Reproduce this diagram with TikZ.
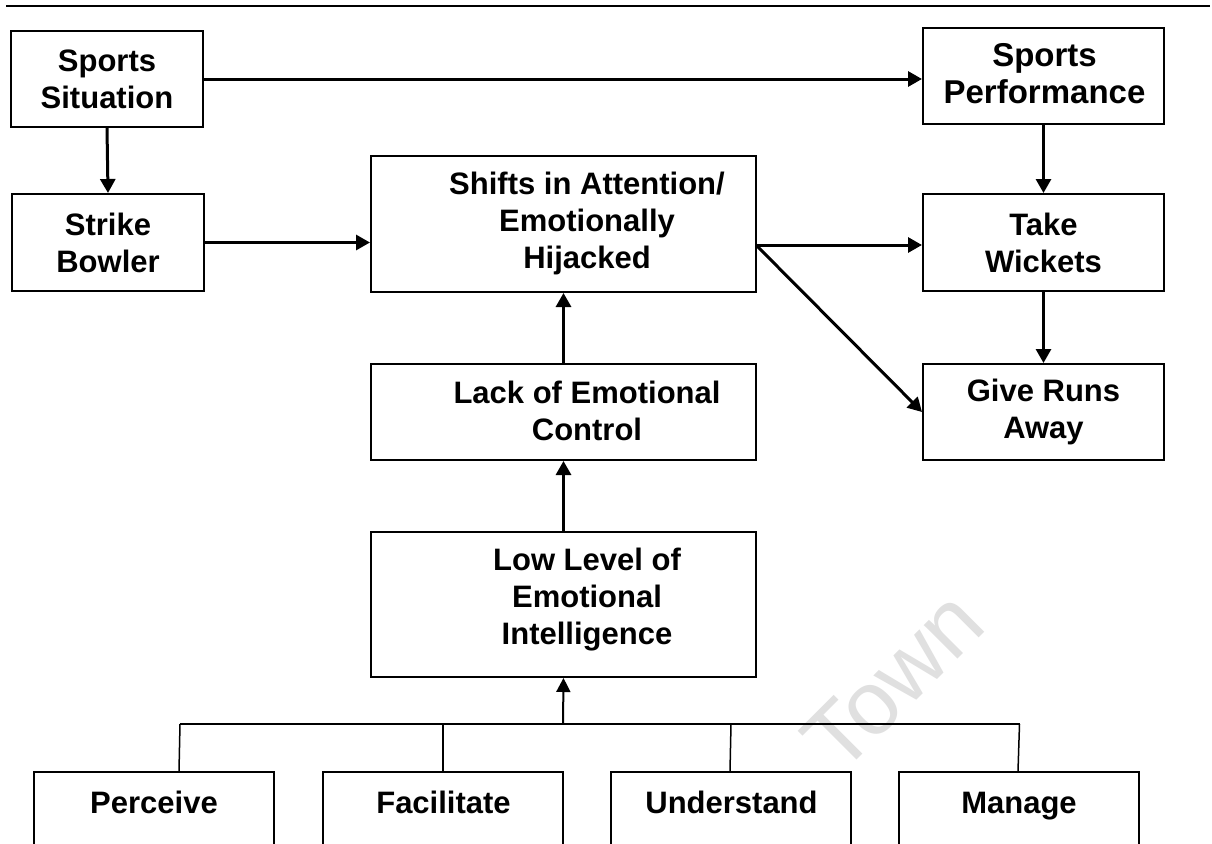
\documentclass[tikz,border=0pt]{standalone}
\usepackage{fontspec}
\setmainfont{Liberation Sans}
\usetikzlibrary{arrows.meta}
\begin{document}
\begin{tikzpicture}[x=1pt,y=-1pt,
  box/.style={draw, line width=2pt, inner sep=0pt, line join=miter},
  lbl/.style={font=\fontsize{31}{37}\selectfont\bfseries, align=center, inner sep=0pt},
  biglbl/.style={font=\fontsize{33}{37}\selectfont\bfseries, align=center, inner sep=0pt},
  flow/.style={line width=3pt, -{Triangle[length=14pt,width=15pt]}},
  feed/.style={line width=2pt, -{Triangle[length=14pt,width=14pt]}},
  bus/.style={line width=1.5pt},
  rule/.style={line width=2.2pt},
  watermark/.style={rotate=45, text=black!12, inner sep=0pt, font=\fontsize{90}{90}\selectfont}
]
\useasboundingbox (0,0) rectangle (1212,843);
\fill[white] (0,0) rectangle (1212,843);
\clip (0,0) rectangle (1212,843);

% faint watermark behind the chart
\node[watermark] (wm) at (893,681) {Town};

% header rule
\coordinate (ruleL) at (6,6);
\coordinate (ruleR) at (1210,6);
\draw[rule] (ruleL) -- (ruleR);

% left column
\node[box, minimum width=192pt, minimum height=96pt, lbl] (sit) at (107,79) {Sports\\Situation};
\node[box, minimum width=192pt, minimum height=97pt, lbl] (strike) at (108,242.5) {Strike\\Bowler};

% right column
\node[box, minimum width=241pt, minimum height=96pt] (perf) at (1043.5,76) {};
\node[biglbl] (perfT) at (1044.5,74) {Sports\\Performance};
\node[box, minimum width=241pt, minimum height=97pt, lbl] (take) at (1043.5,242.5) {Take\\Wickets};
\node[box, minimum width=241pt, minimum height=96pt, lbl] (give) at (1043.5,412) {Give Runs\\Away};

% middle column
\node[box, minimum width=385pt, minimum height=136pt] (shifts) at (563.5,224) {};
\node[lbl] (shiftsT) at (587,223) {Shifts in Attention/\\Emotionally\\Hijacked};
\node[box, minimum width=385pt, minimum height=96pt] (lack) at (563.5,412) {};
\node[lbl] (lackT) at (587,411) {Lack of Emotional\\Control};
\node[box, minimum width=385pt, minimum height=145pt] (low) at (563.5,604.5) {};
\node[lbl] (lowT) at (587,600) {Low Level of\\Emotional\\Intelligence};

% bottom row, running off the lower edge
\node[box, minimum width=240pt, minimum height=120pt] (perceive) at (154,832) {};
\node[box, minimum width=240pt, minimum height=120pt] (facil) at (443,832) {};
\node[box, minimum width=240pt, minimum height=120pt] (under) at (731,832) {};
\node[box, minimum width=240pt, minimum height=120pt] (manage) at (1019,832) {};
\node[lbl, anchor=base] (perceiveT) at (154,813) {Perceive};
\node[lbl, anchor=base] (facilT) at (443.5,813) {Facilitate};
\node[lbl, anchor=base] (underT) at (731.5,813) {Understand};
\node[lbl, anchor=base] (manageT) at (1019,813) {Manage};

% connectors
\draw[flow] (sit.east) -- (sit.east -| perf.west);
\draw[flow] (sit.south) -- (strike.north);
\draw[flow] (strike.east) -- (strike.east -| shifts.west);
\draw[flow] (perf.south) -- (take.north);
\draw[flow] (take.south) -- (give.north);
\coordinate (shiftsOut) at (756,245);
\draw[flow] (shiftsOut) -- (shiftsOut -| take.west);
\draw[flow] (shiftsOut) -- (give.west);
\draw[flow] (lack.north) -- (shifts.south);
\draw[flow] (low.north) -- (lack.south);

% branches joining the four abilities
\coordinate (busP) at (180,724);
\coordinate (busF) at (443,724);
\coordinate (busC) at (563,724);
\coordinate (busU) at (731,724);
\coordinate (busM) at (1019.5,724);
\draw[bus] (busP) -- (busM);
\draw[bus] (busP) -- ([xshift=25pt]perceive.north);
\draw[bus] (busF) -- (facil.north);
\draw[bus] (busU) -- ([xshift=-1pt]under.north);
\draw[bus] (busM) -- ([xshift=-1pt]manage.north);
\draw[feed] (busC) -- (low.south);
\end{tikzpicture}
\end{document}
